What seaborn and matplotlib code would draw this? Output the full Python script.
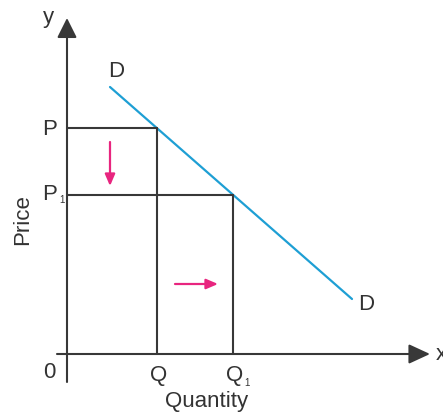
import matplotlib
matplotlib.use("Agg")
import matplotlib.pyplot as plt
import seaborn as sns
import pandas as pd

# demand curve end points
demand_x = [4.3, 28.5]
demand_y = [26.7, 5.5]

# price / quantity levels
price_levels = [22.6, 15.9]      # P, P1
quantity_levels = [9.0, 16.6]    # Q, Q1

# labels
price_names = ["P", "P"]
quantity_names = ["Q", "Q"]

axis_col = "#383838"
text_col = "#333333"
curve_col = "#1e9fd4"
arrow_col = "#e8257f"

sns.set_style("white")
plt.rcParams["font.family"] = ["Liberation Sans", "DejaVu Sans"]

fig = plt.figure(figsize=(4.43, 4.12), dpi=100)
ax = fig.add_axes([0, 0, 1, 1])
ax.set_xlim(-6.7, 37.6)
ax.set_ylim(-5.8, 35.4)
ax.axis("off")

df_d = pd.DataFrame({"q": demand_x, "p": demand_y})
sns.lineplot(data=df_d, x="q", y="p", color=curve_col, lw=1.6,
             estimator=None, sort=False, ax=ax)

# guide lines
for p, q in zip(price_levels, quantity_levels):
    sns.lineplot(x=[0, q], y=[p, p], color=axis_col, lw=1.5,
                 estimator=None, sort=False, ax=ax)
    sns.lineplot(x=[q, q], y=[0, p], color=axis_col, lw=1.5,
                 estimator=None, sort=False, ax=ax)

# axes with arrow heads
ax.annotate("", xy=(36.3, 0), xytext=(-1.0, 0),
            arrowprops=dict(arrowstyle="-|>,head_length=0.65,head_width=0.3",
                            mutation_scale=20, lw=1.5, color=axis_col,
                            shrinkA=0, shrinkB=0))
ax.annotate("", xy=(0, 33.6), xytext=(0, -2.8),
            arrowprops=dict(arrowstyle="-|>,head_length=0.6,head_width=0.3",
                            mutation_scale=20, lw=1.5, color=axis_col,
                            shrinkA=0, shrinkB=0))

# magenta movement arrows
ax.annotate("", xy=(4.3, 16.8), xytext=(4.3, 21.2),
            arrowprops=dict(arrowstyle="-|>,head_length=0.35,head_width=0.15",
                            mutation_scale=20, lw=1.6, color=arrow_col,
                            shrinkA=0, shrinkB=0))
ax.annotate("", xy=(15.1, 7.0), xytext=(10.8, 7.0),
            arrowprops=dict(arrowstyle="-|>,head_length=0.35,head_width=0.15",
                            mutation_scale=20, lw=1.6, color=arrow_col,
                            shrinkA=0, shrinkB=0))

fs = 16
tk = dict(color=text_col, fontsize=fs, ha="center", va="center")
sub = dict(color=text_col, fontsize=7, ha="center", va="center")

# price labels
ax.text(-1.7, price_levels[0] - 0.2, price_names[0], **tk)
ax.text(-1.7, price_levels[1], price_names[1], **tk)
ax.text(-0.55, price_levels[1] - 0.5, "1", **sub)

# quantity labels
ax.text(quantity_levels[0] + 0.2, -2.2, quantity_names[0], **tk)
ax.text(quantity_levels[1] + 0.2, -2.2, quantity_names[1], **tk)
ax.text(quantity_levels[1] + 1.4, -2.9, "1", **sub)

ax.text(-1.8, -1.9, "0", **tk)
ax.text(-1.9, 33.6, "y", **tk)
ax.text(36.9, 0.0, "x", color=text_col, fontsize=fs, ha="left", va="center")

ax.text(4.9, 28.2, "D", **tk)
ax.text(29.9, 5.0, "D", **tk)

ax.text(14.0, -4.7, "Quantity", **tk)
ax.text(-4.4, 13.4, "Price", rotation=90, **tk)

fig.savefig("out.png", dpi=100)
